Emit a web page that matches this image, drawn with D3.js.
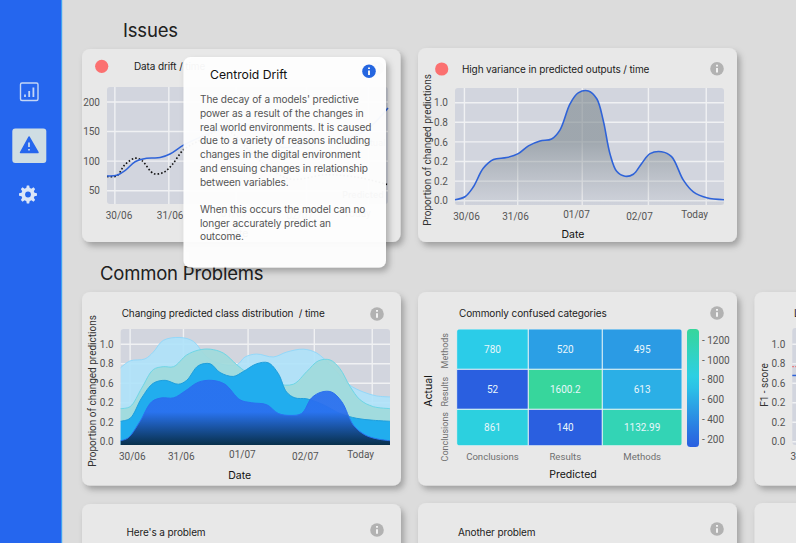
<!DOCTYPE html>
<html lang="en">
<head>
<meta charset="UTF-8">
<title>Issues dashboard</title>
<script src="https://d3js.org/d3.v7.min.js"></script>
<style>
    html, body { margin: 0; padding: 0; background: #dcdcdc; overflow: hidden; }
    svg { display: block; }
    text { font-family: "Inter", sans-serif; }
    .title { font-size: 10px; fill: #1c1c1c; font-weight: 400; letter-spacing: -0.12px; white-space: pre; }
    .heading { font-size: 18.5px; fill: #202020; letter-spacing: -0.2px; }
    .axis-name { font-size: 10.5px; fill: #111; font-weight: 400; }
    .axis-name.long { font-family: "Roboto", sans-serif; font-size: 10px; font-weight: 400; fill: #333; }
    .axis text { font-family: "Roboto", sans-serif; font-size: 10px; fill: #555; }
    .cell-label { font-family: "Roboto", sans-serif; font-size: 10px; fill: #e8f6fb; text-anchor: middle; dominant-baseline: central; }
    .tip-body { font-size: 10.1px; fill: #555; letter-spacing: -0.1px; }
</style>
</head>
<body>
<svg id="page" width="796" height="543"></svg>
<script>
// time axis runs 0-100 across the plot, gridlines and labels don't line up in the original
const dateLabels = ["30/06", "31/06", "01/07", "02/07", "Today"];
const dateLabelAt = [4.1, 22.3, 45, 68.4, 88.9];
const dateGridAt = [3.5, 23.3, 47.3, 71.9, 93.4];
const dateGridAtDrift = [2.8, 22, 46, 71, 93];
const propTicks = [1, 0.8, 0.6, 0.4, 0.2, 0];
const propLabels = ["1.0", "0.8", "0.6", "0.2", "0.2", "0.0"]; // sic, as printed
const driftTicks = [200, 150, 100, 50];

const driftActual = [[0,75],[3.4,76],[6.4,84],[10,99],[14.1,105],[18.9,106],[22.4,112],[27.2,127],[33,140],[41,155],[50,161],[58,150],[62,124],[70,128],[83,136],[92,152],[100,190]];
const driftPredicted = [[0,74],[3.4,75],[6.4,94],[10,105],[12.4,101],[16.6,79],[20.2,81],[23.2,94],[27.2,119],[33,135],[42,153],[54,102],[65,70],[78,77],[90,72],[100,60]];

const varianceLine = [[0,.01],[3.7,.04],[6.8,.14],[10.5,.33],[14.3,.42],[19.2,.44],[23.5,.48],[27.3,.56],[31.6,.61],[35.9,.63],[39,.72],[42.8,.99],[45.8,1.10],[49.6,1.12],[52.7,1.04],[55.1,.82],[57.6,.48],[60.1,.30],[63.2,.25],[66.3,.27],[69.4,.38],[72.5,.48],[76.8,.50],[80.5,.45],[84.9,.21],[88.6,.09],[93.6,.03],[100,.01]];

const classA = [[0,.76],[3.5,.83],[9,.85],[12.1,.92],[15.8,1.04],[22,1.07],[27,1.03],[31.9,.87],[36.9,.80],[43.1,.79],[46.2,.87],[50.5,.90],[56.7,.87],[61.6,.92],[67.8,.95],[72.8,.91],[77.7,.79],[81.4,.68],[85.1,.58],[90.1,.51],[95,.47],[100,.46]];
const classB = [[0,.34],[3.5,.36],[7.8,.55],[12.1,.74],[15.8,.77],[19.6,.77],[24.5,.89],[28.8,.94],[33.2,.95],[38.1,.91],[43.1,.79],[46.8,.71],[51.7,.63],[57.9,.59],[64.1,.59],[69.1,.72],[73.4,.83],[77.7,.84],[81.4,.75],[85.1,.57],[88.9,.43],[93.8,.36],[100,.34]];
const classC = [[0,.21],[3.5,.24],[7.8,.45],[12.1,.60],[16.5,.63],[21.4,.59],[24.5,.63],[28.8,.78],[33.2,.80],[36.9,.71],[41.8,.67],[45.5,.72],[50.5,.80],[54.8,.81],[58.5,.70],[61.6,.51],[64.7,.45],[69.1,.44],[75.2,.38],[81.4,.29],[87.6,.24],[93.8,.22],[100,.21]];
const classD = [[0,.01],[2.8,.04],[7.2,.21],[11.5,.41],[15.2,.45],[19.6,.45],[23.9,.52],[28.8,.61],[33.8,.63],[38.7,.59],[44.3,.43],[48.6,.40],[54.2,.38],[58.5,.29],[62.9,.27],[67.2,.29],[70.9,.45],[74.6,.51],[78.3,.51],[82.1,.41],[86.4,.17],[90.7,.07],[95,.03],[100,.01]];

const confusionCols = ["Conclusions", "Results", "Methods"];
const confusionRows = ["Methods", "Results", "Conclusions"];
const confusionValues = [
    [780, 520, 495],
    [52, 1600.2, 613],
    [861, 140, 1132.99]
];
const confusionTicks = [1200, 1000, 800, 600, 400, 200];

const f1Upper = [[0,.77],[3,.77]];
const f1Lower = [[0,.68],[3,.68]];

const tipLines = [
    "The decay of a models' predictive",
    "power as a result of the changes in",
    "real world environments. It is caused",
    "due to a variety of reasons including",
    "changes in the digital environment",
    "and ensuing changes in relationship",
    "between variables.",
    "",
    "When this occurs the model can no",
    "longer accurately predict an",
    "outcome."
];

const svg = d3.select("#page");
const defs = svg.append("defs");

const shadow = defs.append("filter").attr("id", "cardShadow")
    .attr("x", "-10%").attr("y", "-10%").attr("width", "125%").attr("height", "125%");
shadow.append("feDropShadow").attr("dx", 3).attr("dy", 4).attr("stdDeviation", 3)
    .attr("flood-color", "#000").attr("flood-opacity", 0.28);

svg.append("rect").attr("width", 796).attr("height", 543).attr("fill", "#dcdcdc");

// --- Sidebar ---
svg.append("rect").attr("width", 61).attr("height", 543).attr("fill", "#2566ee");
svg.append("rect").attr("x", 61).attr("width", 1.2).attr("height", 543).attr("fill", "#3fa2f2");

const chartIcon = svg.append("g").attr("fill", "none").attr("stroke", "#c4d6f6");
chartIcon.append("rect").attr("x", 20.5).attr("y", 83).attr("width", 17.5).attr("height", 17.5)
    .attr("rx", 1.5).attr("stroke-width", 1.4);
chartIcon.append("path").attr("stroke-width", 1.8).attr("d", "M25 97v-2.5M29.2 97v-6M33.4 97v-9.5");

svg.append("rect").attr("x", 12.3).attr("y", 128.5).attr("width", 34).attr("height", 34.5)
    .attr("rx", 3).attr("fill", "#cfdde3");
svg.append("path").attr("d", "M29 137L38 152.5H20.5Z").attr("fill", "#2566ee")
    .attr("stroke", "#2566ee").attr("stroke-width", 1.5).attr("stroke-linejoin", "round");
svg.append("path").attr("d", "M29 142.5v4.5M29 149v1.5").attr("stroke", "#dbe7ea").attr("stroke-width", 1.6);

const gearPts = d3.range(48).map(i => {
    const a = i / 48 * 2 * Math.PI, phase = (i + 1.5) % 6;
    return [a, phase < 3 ? 9 : 6.7];
});
svg.append("path").attr("transform", "translate(28,194.5)").attr("fill", "#dbe6f7")
    .attr("d", d3.lineRadial().angle(d => d[0]).radius(d => d[1]).curve(d3.curveLinearClosed)(gearPts));
svg.append("circle").attr("cx", 28).attr("cy", 194.5).attr("r", 2.9).attr("fill", "#2566ee");

// --- Headings ---
svg.append("text").attr("class", "heading").attr("x", 123).attr("y", 37).text("Issues");
svg.append("text").attr("class", "heading").attr("x", 100).attr("y", 279.5).text("Common Problems");

// --- Helpers ---
function addCard(x, y, w, h) {
    svg.append("rect").attr("x", x).attr("y", y).attr("width", w).attr("height", h)
        .attr("rx", 8).attr("fill", "#e8e8e8").attr("filter", "url(#cardShadow)");
}

function addTitle(x, y, label) {
    svg.append("text").attr("class", "title").attr("x", x).attr("y", y)
        .attr("dominant-baseline", "central").text(label);
}

function addInfo(cx, cy, color) {
    svg.append("circle").attr("cx", cx).attr("cy", cy).attr("r", 6.8).attr("fill", color || "#b2b2b2");
    svg.append("path").attr("d", `M${cx} ${cy - 0.8}v4.6M${cx} ${cy - 3.9}v1.6`)
        .attr("stroke", "#f2f2f2").attr("stroke-width", 2);
}

function addAlert(cx, cy) {
    svg.append("circle").attr("cx", cx).attr("cy", cy).attr("r", 6.6).attr("fill", "#fb7070");
}

function addAxisName(x, y, label, rotate, long) {
    svg.append("text").attr("class", long ? "axis-name long" : "axis-name").attr("text-anchor", "middle")
        .attr("dominant-baseline", "central")
        .attr("transform", `translate(${x},${y})` + (rotate ? " rotate(-90)" : ""))
        .text(label);
}

// plot background, grid and axes; returns the scales
function addPlot(o) {
    const x = d3.scaleLinear().domain([0, 100]).range([o.left, o.right]);
    const y = d3.scaleLinear().domain(o.yDomain).range(o.yRange);
    svg.append("rect").attr("x", o.left).attr("y", o.top)
        .attr("width", o.right - o.left).attr("height", o.bottom - o.top)
        .attr("rx", 3).attr("fill", "#d2d5de");
    const grid = svg.append("g").attr("stroke", "#f0f1f3").attr("stroke-width", 1.4);
    grid.selectAll("line.h").data(o.yTicks).join("line").attr("class", "h")
        .attr("x1", o.left).attr("x2", o.right).attr("y1", d => y(d)).attr("y2", d => y(d));
    grid.selectAll("line.v").data(o.gridAt || dateGridAt).join("line").attr("class", "v")
        .attr("y1", o.top).attr("y2", o.bottom).attr("x1", d => x(d)).attr("x2", d => x(d));

    const yAxis = d3.axisLeft(y).tickValues(o.yTicks).tickSize(0)
        .tickFormat((d, i) => o.yLabels ? o.yLabels[i] : d);
    svg.append("g").attr("class", "axis").attr("transform", `translate(${o.left - 4},0)`)
        .call(yAxis).call(g => g.select(".domain").remove());

    const xAxis = d3.axisBottom(x).tickValues(dateLabelAt).tickSize(0)
        .tickFormat((d, i) => dateLabels[i]);
    svg.append("g").attr("class", "axis").attr("transform", `translate(0,${o.bottom + 4})`)
        .call(xAxis).call(g => g.select(".domain").remove())
        .selectAll("text").attr("dy", (d, i) => (i === 2 || i === 4) ? "0.55em" : "0.75em");
    return { x, y };
}

const smooth = d3.curveCatmullRom.alpha(0.5);

// --- Data drift card (sits under the tooltip) ---
addCard(82, 49, 318.5, 193);
addAlert(101.7, 66.3);
addTitle(134, 66, "Data drift / time");
addInfo(377, 68);
const drift = addPlot({
    left: 107, right: 388, top: 87, bottom: 204,
    yDomain: [50, 200], yRange: [190.7, 102],
    yTicks: driftTicks, gridAt: dateGridAtDrift
});
const driftPath = d3.line().x(d => drift.x(d[0])).y(d => drift.y(d[1])).curve(smooth);
svg.append("path").datum(driftPredicted).attr("d", driftPath).attr("fill", "none")
    .attr("stroke", "#111").attr("stroke-width", 1.6).attr("stroke-dasharray", "1.6 2");
svg.append("path").datum(driftActual).attr("d", driftPath).attr("fill", "none")
    .attr("stroke", "#2f63d8").attr("stroke-width", 1.5);
svg.append("text").attr("x", 372).attr("y", 146).attr("text-anchor", "middle")
    .attr("font-size", 9).attr("fill", "#555").text("Actual");
svg.append("text").attr("x", 363).attr("y", 198).attr("text-anchor", "middle")
    .attr("font-size", 9).attr("font-weight", 600).attr("fill", "#555").text("Predicted");
addAxisName(237, 233, "Date");

// --- High variance card ---
addCard(418, 48, 319, 194);
addAlert(441.7, 69);
addTitle(462, 69.3, "High variance in predicted outputs / time");
addInfo(717, 68.7);
const variance = addPlot({
    left: 455, right: 724, top: 88, bottom: 205,
    yDomain: [0, 1], yRange: [200.7, 102.7],
    yTicks: propTicks, yLabels: propLabels
});
const varGrad = defs.append("linearGradient").attr("id", "varianceFill")
    .attr("gradientUnits", "userSpaceOnUse").attr("x1", 0).attr("x2", 0).attr("y1", 140).attr("y2", 205);
varGrad.append("stop").attr("offset", 0).attr("stop-color", "#7f8a90").attr("stop-opacity", 0.62);
varGrad.append("stop").attr("offset", 1).attr("stop-color", "#8f979c").attr("stop-opacity", 0.05);
svg.append("path").datum(varianceLine).attr("fill", "url(#varianceFill)")
    .attr("d", d3.area().x(d => variance.x(d[0])).y0(205).y1(d => variance.y(d[1])).curve(smooth));
svg.append("path").datum(varianceLine).attr("fill", "none").attr("stroke", "#2f63d8").attr("stroke-width", 1.6)
    .attr("d", d3.line().x(d => variance.x(d[0])).y(d => variance.y(d[1])).curve(smooth));
addAxisName(427, 150, "Proportion of changed predictions", true, true);
addAxisName(573, 234, "Date");

// --- Class distribution card ---
addCard(82, 292, 319, 193.5);
addTitle(121.7, 313.3, "Changing predicted class distribution  / time");
addInfo(377, 314);
const classPlot = addPlot({
    left: 120.7, right: 390, top: 329, bottom: 445,
    yDomain: [0, 1], yRange: [441.7, 344.3],
    yTicks: propTicks, yLabels: propLabels
});
const deepGrad = defs.append("linearGradient").attr("id", "deepFill")
    .attr("gradientUnits", "userSpaceOnUse").attr("x1", 0).attr("x2", 0).attr("y1", 412).attr("y2", 445);
deepGrad.append("stop").attr("offset", 0).attr("stop-color", "#2a6fef");
deepGrad.append("stop").attr("offset", 1).attr("stop-color", "#06263f");

const classLayers = [
    { values: classA, fill: "#aee2fa", stroke: "#93d8fa", opacity: 0.9 },
    { values: classB, fill: "#a0dadb", stroke: "#6ed6e6", opacity: 0.92 },
    { values: classC, fill: "#21adee", stroke: "#1f9fdc", opacity: 1 },
    { values: classD, fill: "url(#deepFill)", stroke: "#2a6fef", opacity: 0.93 }
];
const classArea = d3.area().x(d => classPlot.x(d[0])).y0(445).y1(d => classPlot.y(d[1])).curve(smooth);
const classLine = d3.line().x(d => classPlot.x(d[0])).y(d => classPlot.y(d[1])).curve(smooth);
classLayers.forEach(l => {
    svg.append("path").datum(l.values).attr("d", classArea).attr("fill", l.fill).attr("opacity", l.opacity);
    svg.append("path").datum(l.values).attr("d", classLine).attr("fill", "none")
        .attr("stroke", l.stroke).attr("stroke-width", 1);
});
addAxisName(92.7, 391, "Proportion of changed predictions", true, true);
addAxisName(239.7, 475, "Date");

// --- Confusion matrix card ---
addCard(418, 292, 319, 193.5);
addTitle(459, 313.3, "Commonly confused categories");
addInfo(717, 313);

const cellX = d3.scaleLinear().domain([0, 1, 2, 3]).range([456.7, 528.3, 602.3, 682]);
const cellY = d3.scaleLinear().domain([0, 1, 2, 3]).range([329, 369.3, 409.3, 445.7]);
const heatColor = d3.scaleLinear().domain([140, 800, 1300]).range(["#2a5fe0", "#2bcfe8", "#37d69c"]).clamp(true);

defs.append("clipPath").attr("id", "heatClip").append("rect")
    .attr("x", 456.7).attr("y", 329).attr("width", 225.3).attr("height", 116.7).attr("rx", 4);
const cells = confusionValues.flatMap((row, r) => row.map((v, c) => ({ v, r, c })));
svg.append("g").attr("clip-path", "url(#heatClip)").selectAll("rect").data(cells).join("rect")
    .attr("x", d => cellX(d.c)).attr("y", d => cellY(d.r))
    .attr("width", d => cellX(d.c + 1) - cellX(d.c)).attr("height", d => cellY(d.r + 1) - cellY(d.r))
    .attr("fill", d => heatColor(d.v)).attr("stroke", "#e6f3f6").attr("stroke-width", 0.9);
svg.append("g").selectAll("text").data(cells).join("text").attr("class", "cell-label")
    .attr("x", d => (cellX(d.c) + cellX(d.c + 1)) / 2)
    .attr("y", d => (cellY(d.r) + cellY(d.r + 1)) / 2)
    .text(d => d.v);

svg.append("g").selectAll("text").data(confusionCols).join("text")
    .attr("x", (d, i) => (cellX(i) + cellX(i + 1)) / 2).attr("y", 456).attr("text-anchor", "middle")
    .attr("dominant-baseline", "central").attr("font-size", 9.6).attr("fill", "#707070")
    .style("font-family", "Roboto, sans-serif").text(d => d);
const rowLabelY = d3.scaleOrdinal().domain(confusionRows).range([350.7, 391.7, 436.7]);
svg.append("g").selectAll("text").data(confusionRows).join("text")
    .attr("transform", d => `translate(445,${rowLabelY(d)}) rotate(-90)`).attr("text-anchor", "middle")
    .attr("dominant-baseline", "central").attr("font-size", 9).attr("fill", "#707070")
    .style("font-family", "Roboto, sans-serif").text(d => d);
addAxisName(428, 391, "Actual", true);
addAxisName(573, 474.3, "Predicted");

// colour bar
const barY = d3.scaleLinear().domain([200, 1200]).range([439, 340]);
const barGrad = defs.append("linearGradient").attr("id", "barFill")
    .attr("gradientUnits", "userSpaceOnUse").attr("x1", 0).attr("x2", 0).attr("y1", 329).attr("y2", 447);
barGrad.selectAll("stop").data(d3.range(0, 1.01, 0.1)).join("stop")
    .attr("offset", d => d)
    .attr("stop-color", d => heatColor(barY.invert(329 + d * 118)));
svg.append("rect").attr("x", 687).attr("y", 329).attr("width", 12).attr("height", 118)
    .attr("rx", 3.5).attr("fill", "url(#barFill)");
svg.append("g").attr("class", "axis").attr("transform", "translate(702,0)")
    .call(d3.axisRight(barY).tickValues(confusionTicks).tickSize(0).tickPadding(0).tickFormat(d => "- " + d))
    .call(g => g.select(".domain").remove());

// --- F1 card, runs off the right edge ---
addCard(754.5, 292, 319, 193.5);
addTitle(794, 313.3, "Label F1 score / time");
const f1Plot = addPlot({
    left: 792.3, right: 1061, top: 328, bottom: 445,
    yDomain: [0, 1], yRange: [441.7, 344.3],
    yTicks: propTicks, yLabels: propLabels
});
const f1Path = d3.line().x(d => f1Plot.x(d[0])).y(d => f1Plot.y(d[1]));
svg.append("path").datum(f1Upper).attr("d", f1Path).attr("fill", "none")
    .attr("stroke", "#f0686a").attr("stroke-width", 1.2).attr("stroke-dasharray", "1.5 1.5");
svg.append("path").datum(f1Lower).attr("d", f1Path).attr("fill", "none")
    .attr("stroke", "#2f63d8").attr("stroke-width", 1.5);
addAxisName(764, 385, "F1 - score", true, true);

// --- Bottom row ---
addCard(82, 504, 319, 120);
addTitle(126.5, 532, "Here's a problem");
addInfo(377, 530);
addCard(418, 503, 319, 120);
addTitle(458, 532, "Another problem");
addInfo(717, 529);
addCard(754.5, 503, 319, 120);

// --- Tooltip over the drift card ---
const tip = svg.append("g");
tip.append("rect").attr("x", 183.5).attr("y", 57).attr("width", 202.5).attr("height", 210.5)
    .attr("rx", 7).attr("fill", "#fff").attr("fill-opacity", 0.95).attr("filter", "url(#cardShadow)");
tip.append("text").attr("x", 210).attr("y", 74.5).attr("font-size", 12.2).attr("fill", "#111")
    .attr("dominant-baseline", "central").text("Centroid Drift");
addInfo(369, 71.3, "#2566e0");
tip.append("g").selectAll("text").data(tipLines).join("text").attr("class", "tip-body")
    .attr("x", 200).attr("y", (d, i) => 99.3 + i * 13.7).attr("dominant-baseline", "central").text(d => d);
</script>
</body>
</html>
